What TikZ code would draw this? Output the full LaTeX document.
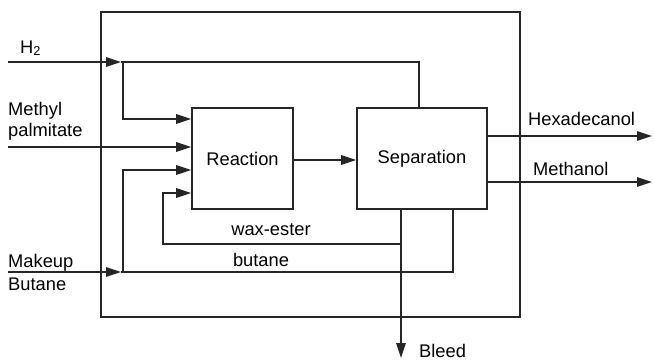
\documentclass[tikz,border=0pt]{standalone}
\usepackage{fontspec}
\setmainfont{Liberation Sans}
\usetikzlibrary{arrows.meta}
\begin{document}
\begin{tikzpicture}[x=1pt,y=-1pt,
  every node/.style={font=\fontsize{18.3}{19}\selectfont, inner sep=0pt},
  ln/.style={line width=1.6pt, black!85},
  arr/.style={ln, -{Triangle[length=15pt,width=9.5pt]}},
  unit/.style={draw=black!85, line width=1.6pt, minimum width=#1, minimum height=101pt, inner sep=0pt}]
\useasboundingbox (0,0) rectangle (654,360);
% outer box
\draw[ln] (101,12) rectangle (520,317);
% units
\node[unit=101pt] (R) at (242.5,158.5) {Reaction};
\node[unit=130pt] (S) at (422,158.5) {Separation};
% coordinates
\coordinate (h2in) at (8,62);
\coordinate (h2j) at (123,62);
\coordinate (h2t) at (419,62);
\coordinate (mpin) at (8,147);
\coordinate (mbin) at (8,272);
\coordinate (mbj) at (123,272);
\coordinate (bt) at (453,272);
\coordinate (wx) at (163,244);
\coordinate (bl) at (401,244);
\coordinate (bleed) at (401,358);
\coordinate (hex) at (652,136);
\coordinate (meth) at (652,182);
% H2
\draw[arr] (h2in) -- (121,62);
\draw[ln] (121,62) -- (h2t) -- (h2t |- S.north);
\draw[arr] (h2j) |- (R.west |- 0,119);
% methyl palmitate
\draw[arr] (mpin) -- (R.west |- mpin);
% makeup butane
\draw[arr] (mbin) -- (121,272);
\draw[ln] (121,272) -- (bt) -- (bt |- S.south);
\draw[arr] (mbj) |- (R.west |- 0,170);
% wax-ester recycle
\draw[arr] (bl) -- (wx) |- (R.west |- 0,193);
% bleed
\draw[arr] (S.south -| bleed) -- (bleed);
% reaction to separation
\draw[arr] (R.east |- 0,160) -- (S.west |- 0,160);
% products
\draw[arr] (S.east |- hex) -- (hex);
\draw[arr] (S.east |- meth) -- (meth);
% labels
\node[anchor=base west] (lh2) at (20,53) {H\textsubscript{2}};
\node[anchor=base west] (lmp1) at (8,115) {Methyl};
\node[anchor=base west] (lmp2) at (8,136) {palmitate};
\node[anchor=base west] (lmk) at (8,267) {Makeup};
\node[anchor=base west] (lbu) at (8,290) {Butane};
\node[anchor=base] (lwx) at (271,235) {wax-ester};
\node[anchor=base] (lbt) at (261,266) {butane};
\node[anchor=base west] (lhx) at (528,125) {Hexadecanol};
\node[anchor=base west] (lme) at (533,175) {Methanol};
\node[anchor=base west] (lbl) at (419,357) {Bleed};
\end{tikzpicture}
\end{document}
